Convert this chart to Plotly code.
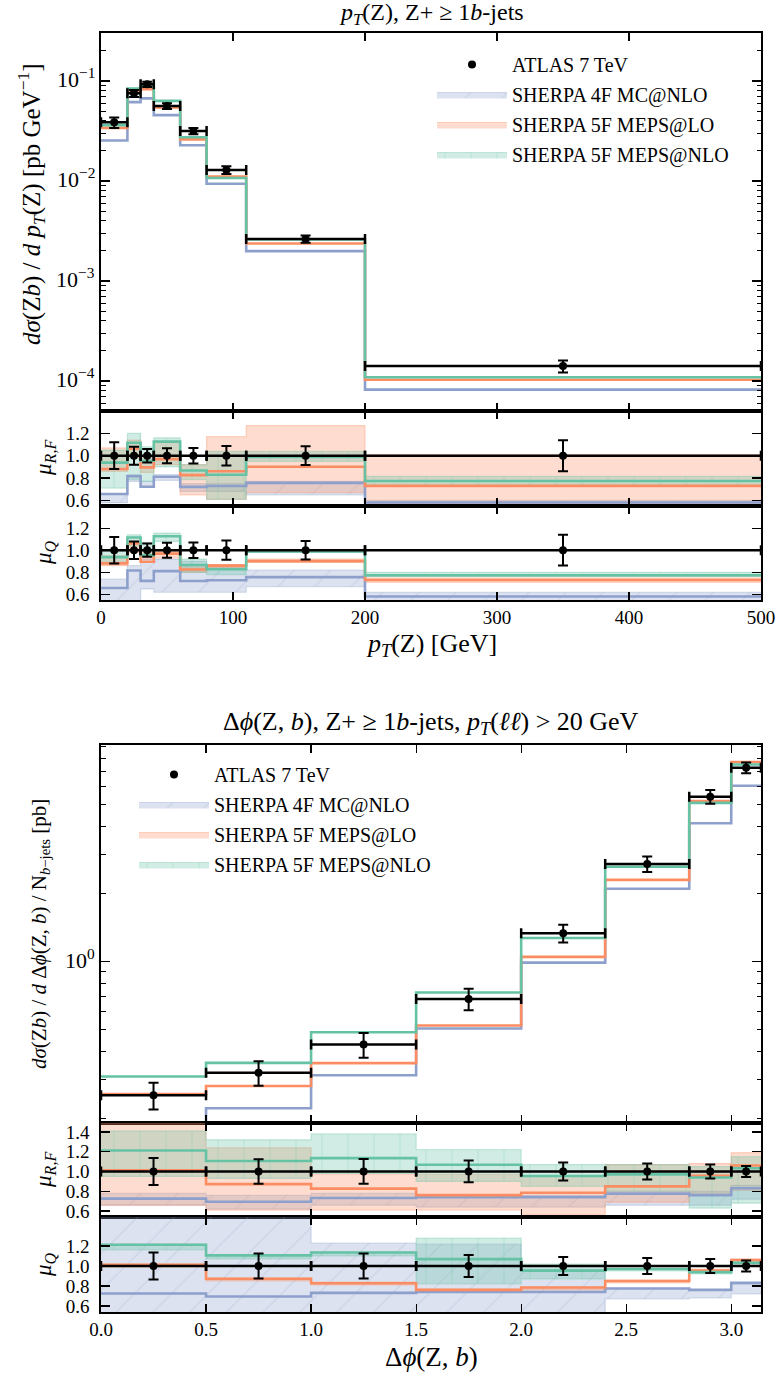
import math
import plotly.graph_objects as go

PAGE_W, PAGE_H, OFF = 779, 1380, 0
W, H = PAGE_W - OFF, PAGE_H - OFF
FONT = "Liberation Serif"

# ---------------- pT(Z) distribution ----------------
pt_edges = [0, 20, 30, 40, 60, 80, 110, 200, 500]
pt_xticks = [0, 100, 200, 300, 400, 500]
pt_ytick_exps = [-4, -3, -2, -1]
pt_data = [0.0386, 0.0753, 0.0927, 0.0562, 0.0316, 0.0129, 0.00263, 1.41e-4]
pt_data_relerr = [0.12, 0.08, 0.06, 0.067, 0.07, 0.087, 0.084, 0.139]
pt_4f = [0.0254, 0.0615, 0.0670, 0.0456, 0.0228, 0.0094, 0.00199, 8.2e-5]
pt_5flo = [0.0340, 0.0800, 0.0830, 0.0545, 0.0261, 0.0111, 0.00237, 1.03e-4]
pt_5fnlo = [0.0362, 0.0840, 0.0885, 0.0633, 0.0274, 0.0107, 0.00260, 1.09e-4]
# scale-variation bands (ratio to data), mu_{R,F}
pt_rf_4f_lo = [0.58, 0.77, 0.72, 0.78, 0.68, 0.68, 0.65, 0.50]
pt_rf_4f_hi = [0.66, 0.83, 0.77, 0.83, 0.75, 0.75, 0.77, 0.60]
pt_rf_5flo_lo = [0.86, 0.98, 0.85, 0.92, 0.65, 0.61, 0.67, 0.56]
pt_rf_5flo_hi = [1.07, 1.14, 1.00, 1.13, 0.92, 1.17, 1.27, 1.01]
pt_rf_5fnlo_lo = [0.71, 0.785, 0.77, 0.90, 0.785, 0.61, 0.95, 0.74]
pt_rf_5fnlo_hi = [1.05, 1.20, 1.08, 1.16, 0.92, 1.04, 1.04, 0.815]
# mu_Q
pt_q_4f_lo = [0.50, 0.50, 0.65, 0.62, 0.62, 0.62, 0.67, 0.50]
pt_q_4f_hi = [0.74, 0.86, 0.92, 0.92, 0.90, 0.87, 0.82, 0.62]
pt_q_5flo_lo = [0.86, 0.98, 0.92, 0.93, 0.80, 0.84, 0.89, 0.71]
pt_q_5flo_hi = [0.95, 1.08, 1.00, 0.99, 0.87, 0.87, 0.92, 0.75]
pt_q_5fnlo_lo = [0.89, 1.04, 0.95, 1.08, 0.80, 0.78, 0.98, 0.77]
pt_q_5fnlo_hi = [0.99, 1.14, 1.07, 1.155, 0.92, 0.83, 1.00, 0.80]

# ---------------- Delta phi(Z,b) distribution ----------------
dphi_edges = [0.0, 0.5, 1.0, 1.5, 2.0, 2.4, 2.8, 3.0, math.pi]
dphi_xticks = [0.0, 0.5, 1.0, 1.5, 2.0, 2.5, 3.0]
dphi_ytick_exps = [0]
dphi_data = [0.255, 0.321, 0.428, 0.683, 1.337, 2.72, 5.41, 7.28]
dphi_data_relerr = [0.136, 0.124, 0.125, 0.11, 0.09, 0.08, 0.07, 0.055]
dphi_4f = [0.185, 0.223, 0.313, 0.505, 0.99, 2.11, 4.12, 6.05]
dphi_5flo = [0.258, 0.280, 0.354, 0.52, 1.05, 2.31, 5.17, 7.72]
dphi_5fnlo = [0.309, 0.355, 0.486, 0.73, 1.275, 2.64, 5.08, 7.52]
dphi_rf_4f_lo = [0.66, 0.62, 0.66, 0.64, 0.64, 0.66, 0.66, 0.72]
dphi_rf_4f_hi = [0.78, 0.76, 0.78, 0.76, 0.76, 0.80, 0.80, 0.86]
dphi_rf_5flo_lo = [0.66, 0.61, 0.61, 0.61, 0.56, 0.69, 0.78, 0.81]
dphi_rf_5flo_hi = [1.49, 1.24, 0.97, 0.97, 0.95, 1.07, 1.08, 1.19]
dphi_rf_5fnlo_lo = [0.95, 0.93, 0.98, 0.90, 0.85, 0.80, 0.63, 0.68]
dphi_rf_5fnlo_hi = [1.41, 1.32, 1.38, 1.22, 1.07, 1.07, 1.05, 1.15]
dphi_q_4f_lo = [0.50, 0.50, 0.50, 0.50, 0.50, 0.67, 0.68, 0.72]
dphi_q_4f_hi = [1.55, 1.55, 1.23, 1.22, 0.97, 0.78, 0.76, 0.82]
dphi_q_5flo_lo = [0.99, 0.85, 0.81, 0.74, 0.76, 0.83, 0.94, 1.04]
dphi_q_5flo_hi = [1.02, 0.88, 0.84, 0.77, 0.79, 0.86, 0.97, 1.07]
dphi_q_5fnlo_lo = [1.16, 1.07, 1.10, 0.82, 0.87, 0.95, 0.92, 1.00]
dphi_q_5fnlo_hi = [1.22, 1.11, 1.14, 1.28, 1.02, 0.97, 0.95, 1.04]

C4, CLO, CNLO = "#8da0cb", "#fc8d62", "#66c2a5"
NAMES = ["SHERPA 4F MC@NLO", "SHERPA 5F MEPS@LO", "SHERPA 5F MEPS@NLO"]


def rgba(h, a):
    h = h.lstrip("#")
    r, g, b = int(h[0:2], 16), int(h[2:4], 16), int(h[4:6], 16)
    return f"rgba({r},{g},{b},{a})"


def steps(edges, vals):
    return list(edges), list(vals) + [vals[-1]]


def centers(edges):
    return [(a + b) / 2 for a, b in zip(edges[:-1], edges[1:])]


def halfw(edges):
    return [(b - a) / 2 for a, b in zip(edges[:-1], edges[1:])]


fig = go.Figure()


def add_line(xa, ya, edges, vals, color, width=2.6):
    x, y = steps(edges, vals)
    fig.add_trace(go.Scatter(x=x, y=y, mode="lines", xaxis=xa, yaxis=ya,
                             line=dict(color=color, width=width, shape="hv"),
                             showlegend=False, hoverinfo="skip"))


def add_band(xa, ya, edges, lo, hi, color, pattern, legend=None, name=None, rank=None, group=None):
    x, ylo = steps(edges, lo)
    _, yhi = steps(edges, hi)
    fig.add_trace(go.Scatter(x=x, y=ylo, mode="lines", xaxis=xa, yaxis=ya,
                             line=dict(color=rgba(color, 0.35), width=1.2, shape="hv"),
                             showlegend=False, hoverinfo="skip"))
    kw = dict(showlegend=False)
    if legend is not None:
        kw = dict(showlegend=True, legend=legend, name=name, legendrank=rank, legendgroup=group)
    fp = None
    if pattern:
        fp = dict(shape=pattern, fgcolor=rgba(color, 0.45), bgcolor=rgba(color, 0.30),
                  size=26, solidity=0.05)
    fig.add_trace(go.Scatter(x=x, y=yhi, mode="lines", xaxis=xa, yaxis=ya,
                             line=dict(color=rgba(color, 0.35), width=1.2, shape="hv"),
                             fill="tonexty", fillcolor=rgba(color, 0.30), fillpattern=fp,
                             hoverinfo="skip", **kw))


def add_data(xa, ya, edges, y, err, legend=None):
    kw = dict(showlegend=False)
    if legend is not None:
        kw = dict(showlegend=True, legend=legend, name="ATLAS 7 TeV", legendrank=1, legendgroup="g0")
    fig.add_trace(go.Scatter(x=centers(edges), y=y, mode="markers", xaxis=xa, yaxis=ya,
                             marker=dict(color="black", size=8),
                             error_y=dict(type="data", array=err, color="black", thickness=2, width=5),
                             error_x=dict(type="data", array=halfw(edges), color="black", thickness=2.5, width=5),
                             hoverinfo="skip", **kw))


def panel(ax, edges, data, relerr, mcs, rf_bands, q_bands, legend):
    xm, ym, xr1, yr1, xr2, yr2 = ax
    cols = [C4, CLO, CNLO]
    pats = ["/", "", "|"]
    for mc, c in zip(mcs, cols):
        add_line(xm, ym, edges, mc, c)
    add_data(xm, ym, edges, data, [d * e for d, e in zip(data, relerr)], legend=legend)
    for (xa, ya, bands, leg) in [(xr1, yr1, rf_bands, True), (xr2, yr2, q_bands, False)]:
        for i, ((lo, hi), c, p) in enumerate(zip(bands, cols, pats)):
            if leg:
                add_band(xa, ya, edges, lo, hi, c, p, legend=legend, name=NAMES[i], rank=i + 2, group=f"g{i+1}")
            else:
                add_band(xa, ya, edges, lo, hi, c, p)
        for mc, c in zip(mcs, cols):
            add_line(xa, ya, edges, [m / d for m, d in zip(mc, data)], c)
        add_data(xa, ya, edges, [1.0] * len(data), relerr)


panel(("x", "y", "x2", "y2", "x3", "y3"), pt_edges, pt_data, pt_data_relerr,
      [pt_4f, pt_5flo, pt_5fnlo],
      [(pt_rf_4f_lo, pt_rf_4f_hi), (pt_rf_5flo_lo, pt_rf_5flo_hi), (pt_rf_5fnlo_lo, pt_rf_5fnlo_hi)],
      [(pt_q_4f_lo, pt_q_4f_hi), (pt_q_5flo_lo, pt_q_5flo_hi), (pt_q_5fnlo_lo, pt_q_5fnlo_hi)],
      "legend")
panel(("x4", "y4", "x5", "y5", "x6", "y6"), dphi_edges, dphi_data, dphi_data_relerr,
      [dphi_4f, dphi_5flo, dphi_5fnlo],
      [(dphi_rf_4f_lo, dphi_rf_4f_hi), (dphi_rf_5flo_lo, dphi_rf_5flo_hi), (dphi_rf_5fnlo_lo, dphi_rf_5fnlo_hi)],
      [(dphi_q_4f_lo, dphi_q_4f_hi), (dphi_q_5flo_lo, dphi_q_5flo_hi), (dphi_q_5fnlo_lo, dphi_q_5fnlo_hi)],
      "legend2")


def py(p):
    return 1 - (p - OFF) / H


def px(p):
    return (p - OFF) / W


XDOM = [px(101), px(761)]
common = dict(showline=True, linecolor="black", linewidth=1.6, mirror="allticks", ticks="inside",
              tickcolor="black", tickwidth=1.2, showgrid=False, zeroline=False, automargin=False,
              tickfont=dict(family=FONT, size=19, color="black"))

layout = dict(width=W, height=H, margin=dict(l=0, r=0, t=0, b=0, autoexpand=False),
              plot_bgcolor="white", paper_bgcolor="white", showlegend=True,
              font=dict(family=FONT, color="black"))

doms = {
    1: (33, 411), 2: (411, 506), 3: (506, 600),
    4: (745, 1123), 5: (1123, 1217), 6: (1217, 1312),
}
for i in range(1, 7):
    xs = "" if i == 1 else str(i)
    top = i <= 3
    xkw = dict(common, domain=XDOM, anchor="y" + xs, ticklen=8)
    if top:
        xkw.update(range=[0, 500], tickvals=pt_xticks, ticktext=[str(v) for v in pt_xticks])
    else:
        xkw.update(range=[0, math.pi], tickvals=dphi_xticks, ticktext=[f"{v:.1f}" for v in dphi_xticks])
    xkw["showticklabels"] = i in (3, 6)
    t, b = doms[i]
    ykw = dict(common, domain=[py(b), py(t)], anchor="x" + xs, ticklen=9)
    if i in (1, 4):
        ykw.update(type="log", dtick=1, showticklabels=False,
                   minor=dict(ticks="inside", ticklen=4.5, tickcolor="black", tickwidth=1, showgrid=False))
        ykw["range"] = [-4.30, -0.52] if i == 1 else [-0.717, 0.963]
    elif i in (2, 3):
        ykw.update(range=[0.55, 1.40], tickvals=[0.6, 0.8, 1.0, 1.2], ticktext=["0.6", "0.8", "1.0", "1.2"],
                   ticklabelstandoff=6, tickfont=dict(family=FONT, size=19, color="black"))
    elif i == 5:
        ykw.update(range=[0.54, 1.49], tickvals=[0.6, 0.8, 1.0, 1.2, 1.4],
                   ticktext=["0.6", "0.8", "1.0", "1.2", "1.4"],
                   ticklabelstandoff=6, tickfont=dict(family=FONT, size=19, color="black"))
    else:
        ykw.update(range=[0.54, 1.49], tickvals=[0.6, 0.8, 1.0, 1.2],
                   ticktext=["0.6", "0.8", "1.0", "1.2"],
                   ticklabelstandoff=6, tickfont=dict(family=FONT, size=19, color="black"))
    layout["xaxis" + xs] = xkw
    layout["yaxis" + xs] = ykw

leg_common = dict(xanchor="left", yanchor="top", bgcolor="rgba(0,0,0,0)", itemwidth=70,
                  traceorder="grouped", tracegroupgap=1,
                  font=dict(family=FONT, size=20, color="black"))
layout["legend"] = dict(leg_common, x=px(432), y=py(45))
layout["legend2"] = dict(leg_common, x=px(134), y=py(755))


def ann(xp, yp, text, size=20, angle=0):
    return dict(x=px(xp), y=py(yp), xref="paper", yref="paper", text=text, showarrow=False,
                textangle=angle, xanchor="center", yanchor="middle",
                font=dict(family=FONT, size=size, color="black"))


def log_label(yref, e):
    return dict(x=px(97), y=e, xref="paper", yref=yref, text=f"10<sup>{e:d}</sup>".replace("-", "−"),
                showarrow=False, xanchor="right", yanchor="middle", yshift=3,
                font=dict(family=FONT, size=22, color="black"))


PT = "<i>p</i><sub><i>T</i></sub>"
DPHI = "Δ<i>ϕ</i>(Z, <i>b</i>)"
anns = [
    ann(431, 14, f"{PT}(Z), Z+ ≥ 1<i>b</i>-jets", 24),
    ann(431, 645, f"{PT}(Z) [GeV]", 26),
    ann(31, 204, f"<i>dσ</i>(Z<i>b</i>) / <i>d</i> {PT}(Z) [pb GeV<sup>−1</sup>]", 25, -90),
    ann(45, 458, "<i>μ</i><sub><i>R,F</i></sub>", 23, -90),
    ann(45, 553, "<i>μ</i><sub><i>Q</i></sub>", 23, -90),
    ann(431, 723, f"{DPHI}, Z+ ≥ 1<i>b</i>-jets, {PT}(<i>ℓℓ</i>) &gt; 20 GeV", 26),
    ann(431, 1357, DPHI, 27),
    ann(40, 934, f"<i>dσ</i>(Z<i>b</i>) / <i>d</i> {DPHI} / N<sub><i>b</i>−jets</sub> [pb]", 21, -90),
    ann(45, 1170, "<i>μ</i><sub><i>R,F</i></sub>", 23, -90),
    ann(45, 1265, "<i>μ</i><sub><i>Q</i></sub>", 23, -90),
]
anns += [log_label("y", e) for e in pt_ytick_exps]
anns += [log_label("y4", e) for e in dphi_ytick_exps]
layout["annotations"] = anns

fig.update_layout(**layout)
fig.write_html("out.html", config={"displayModeBar": False, "staticPlot": True},
               post_script="document.body.style.margin='0px';document.body.style.overflow='hidden';")
